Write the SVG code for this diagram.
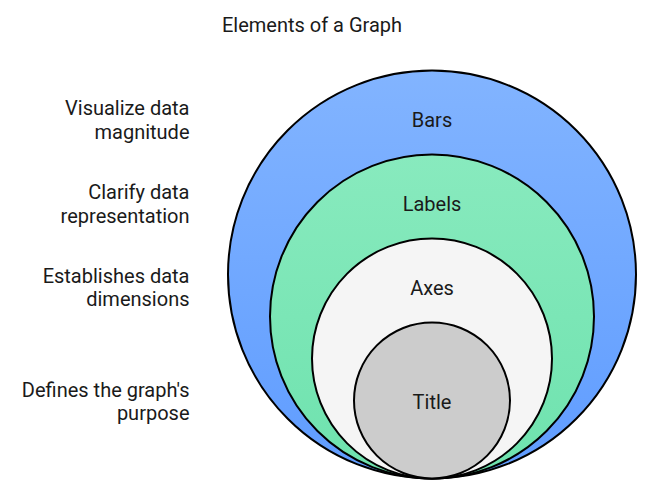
<svg xmlns="http://www.w3.org/2000/svg" width="649" height="494" viewBox="0 0 649 494">
<defs>
<linearGradient id="gBlue" x1="0" y1="0" x2="0" y2="1"><stop offset="0" stop-color="#82b4ff"/><stop offset="1" stop-color="#5f9cff"/></linearGradient>
<linearGradient id="gGreen" x1="0" y1="0" x2="0" y2="1"><stop offset="0" stop-color="#88eabe"/><stop offset="1" stop-color="#6ee2ae"/></linearGradient>
</defs>
<style>
text{font-family:Roboto,"Liberation Sans",sans-serif;font-size:20px;fill:#1a1a1a}
.c{stroke:#000;stroke-width:2}
.m{text-anchor:middle}
.r{text-anchor:end}
</style>
<rect width="649" height="494" fill="#fff"/>
<text id="heading" class="m" x="312" y="31.5">Elements of a Graph</text>
<g id="bars"><circle class="c" cx="432" cy="274.5" r="204" fill="url(#gBlue)"/><text class="m" x="432" y="127">Bars</text></g>
<g id="labels"><circle class="c" cx="432" cy="316.5" r="162" fill="url(#gGreen)"/><text class="m" x="432" y="211">Labels</text></g>
<g id="axes"><circle class="c" cx="432" cy="358.5" r="120" fill="#f5f5f5"/><text class="m" x="432" y="295">Axes</text></g>
<g id="title"><circle class="c" cx="432" cy="400.5" r="78" fill="#cccccc"/><text class="m" x="432" y="408.5">Title</text></g>
<g id="descriptions">
<text class="r" x="189.5" y="115">Visualize data</text>
<text class="r" x="189.5" y="138.5">magnitude</text>
<text class="r" x="189.5" y="199">Clarify data</text>
<text class="r" x="189.5" y="222.5">representation</text>
<text class="r" x="189.5" y="282.5">Establishes data</text>
<text class="r" x="189.5" y="306">dimensions</text>
<text class="r" x="189.5" y="396.5">Defines the graph's</text>
<text class="r" x="189.5" y="420">purpose</text>
</g>
<g id="connectors"/>
</svg>
